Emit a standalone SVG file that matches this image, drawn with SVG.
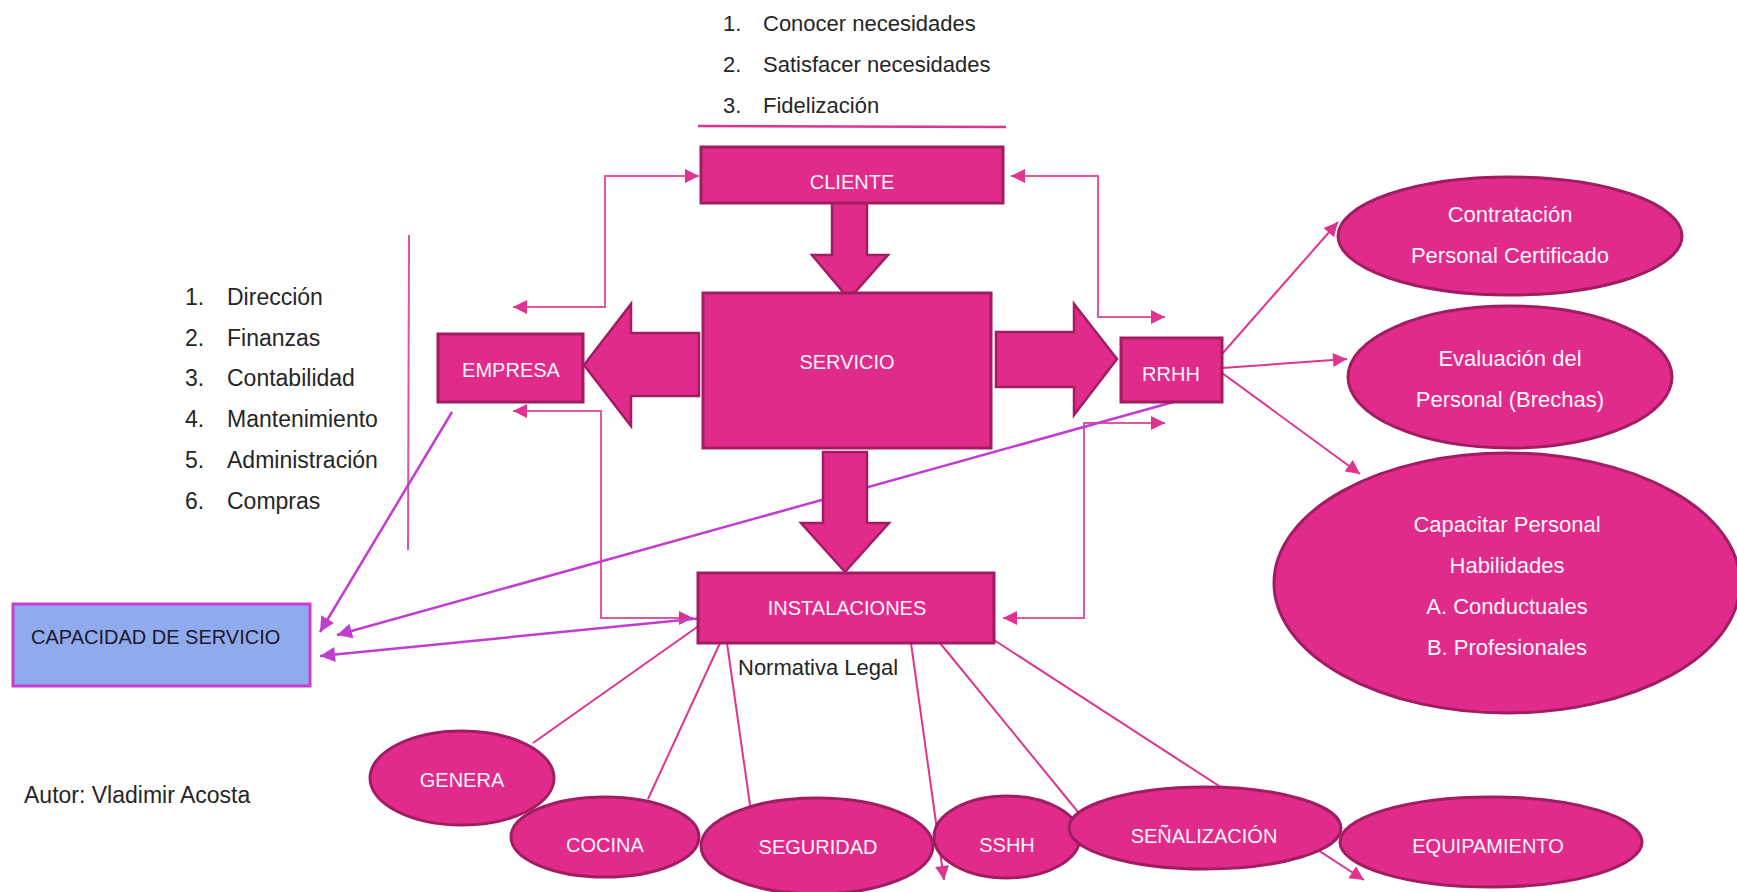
<svg xmlns="http://www.w3.org/2000/svg" width="1737" height="892" viewBox="0 0 1737 892">
<style>
.box{fill:#e12b8b;stroke:#a21c62;stroke-width:3}
.blk{fill:#e12b8b;stroke:#a21c62;stroke-width:2.5;stroke-linejoin:miter}
.lbl{font-family:"Liberation Sans",Arial,sans-serif;fill:#fff4fa;text-anchor:middle;font-size:20px}
.lbl2{font-family:"Liberation Sans",Arial,sans-serif;fill:#fff4fa;text-anchor:middle;font-size:22px}
.txt{font-family:"Liberation Sans",Arial,sans-serif;fill:#262626;font-size:23px}
.txt2{font-family:"Liberation Sans",Arial,sans-serif;fill:#262626;font-size:22px}
.con{stroke:#e0338f;stroke-width:2;fill:none}
.el{stroke:#e2589e;stroke-width:2;fill:none}
.pur{stroke:#c23cd0;stroke-width:2.5;fill:none}
</style>
<defs>
<marker id="ap" viewBox="0 0 10 10" refX="10" refY="5" markerWidth="15" markerHeight="14" markerUnits="userSpaceOnUse" orient="auto-start-reverse">
<path d="M0,0 L10,5 L0,10 z" fill="#e0338f"/>
</marker>
<marker id="au" viewBox="0 0 10 10" refX="10" refY="5" markerWidth="16" markerHeight="15" markerUnits="userSpaceOnUse" orient="auto-start-reverse">
<path d="M0,0 L10,5 L0,10 z" fill="#c23cd0"/>
</marker>
</defs>
<rect width="1737" height="892" fill="#ffffff"/>

<g id="lista-cliente">
<text class="txt2" x="723" y="31">1.</text><text class="txt2" x="763" y="31">Conocer necesidades</text>
<text class="txt2" x="723" y="72">2.</text><text class="txt2" x="763" y="72">Satisfacer necesidades</text>
<text class="txt2" x="723" y="113">3.</text><text class="txt2" x="763" y="113">Fidelización</text>
<line x1="698" y1="126" x2="1006" y2="127" stroke="#e0338f" stroke-width="2.5"/>
</g>

<g id="lista-empresa">
<text class="txt" x="185" y="305">1.</text><text class="txt" x="227" y="305">Dirección</text>
<text class="txt" x="185" y="346">2.</text><text class="txt" x="227" y="346">Finanzas</text>
<text class="txt" x="185" y="386">3.</text><text class="txt" x="227" y="386">Contabilidad</text>
<text class="txt" x="185" y="427">4.</text><text class="txt" x="227" y="427">Mantenimiento</text>
<text class="txt" x="185" y="468">5.</text><text class="txt" x="227" y="468">Administración</text>
<text class="txt" x="185" y="509">6.</text><text class="txt" x="227" y="509">Compras</text>
<line x1="409" y1="235" x2="408" y2="550" stroke="#d9569c" stroke-width="2"/>
</g>

<g id="connectors">
<path class="el" d="M513 307 H605 V176 H699" marker-start="url(#ap)" marker-end="url(#ap)"/>
<path class="el" d="M1011 176 H1098 V317 H1165" marker-start="url(#ap)" marker-end="url(#ap)"/>
<path class="el" d="M513 411 H601 V618 H693" marker-start="url(#ap)" marker-end="url(#ap)"/>
<path class="el" d="M1165 423 H1084 V618 H1003" marker-start="url(#ap)" marker-end="url(#ap)"/>
<line class="pur" x1="452" y1="412" x2="320" y2="632" marker-end="url(#au)"/>
<line class="pur" x1="1177" y1="401" x2="337" y2="635" marker-end="url(#au)"/>
<line class="pur" x1="703" y1="618" x2="320" y2="656" marker-end="url(#au)"/>
<line class="con" x1="1222" y1="354" x2="1338" y2="222" marker-end="url(#ap)"/>
<line class="con" x1="1222" y1="368" x2="1347" y2="359" marker-end="url(#ap)"/>
<line class="con" x1="1222" y1="373" x2="1360" y2="474" marker-end="url(#ap)"/>
<line class="con" x1="700" y1="625" x2="533" y2="743"/>
<line class="con" x1="720" y1="643" x2="648" y2="799"/>
<line class="con" x1="727" y1="643" x2="750" y2="805"/>
<line class="con" x1="911" y1="643" x2="944" y2="880" marker-end="url(#ap)"/>
<line class="con" x1="940" y1="643" x2="1078" y2="812"/>
<line class="con" x1="994" y1="640" x2="1364" y2="880" marker-end="url(#ap)"/>
<polygon class="blk" points="832,203 867,203 867,255 888,255 849,299 812,255 832,255"/>
<polygon class="blk" points="823,452 867,452 867,523 889,523 845,572 801,523 823,523"/>
<polygon class="blk" points="699,333 631,333 631,304 584,365 631,426 631,396 699,396"/>
<polygon class="blk" points="996,332 1074,332 1074,304 1117,359 1074,415 1074,387 996,387"/>
</g>

<g id="cliente"><rect class="box" x="701" y="147" width="302" height="56"/><text class="lbl" x="852" y="189">CLIENTE</text></g>
<g id="servicio"><rect class="box" x="703" y="293" width="288" height="155"/><text class="lbl" x="847" y="369">SERVICIO</text></g>
<g id="empresa"><rect class="box" x="438" y="334" width="145" height="68"/><text class="lbl" x="511" y="377">EMPRESA</text></g>
<g id="rrhh"><rect class="box" x="1121" y="338" width="101" height="64"/><text class="lbl" x="1171" y="381">RRHH</text></g>
<g id="instalaciones"><rect class="box" x="698" y="573" width="296" height="70"/><text class="lbl" x="847" y="615">INSTALACIONES</text></g>

<g id="capacidad"><rect x="13" y="604" width="297" height="82" fill="#8fabee" stroke="#c63fd2" stroke-width="3"/><text x="31" y="644" font-family="'Liberation Sans',Arial,sans-serif" font-size="20" fill="#1a1a2a">CAPACIDAD DE SERVICIO</text></g>

<g id="contratacion"><ellipse class="box" cx="1510" cy="236" rx="172" ry="59"/><text class="lbl2" x="1510" y="222">Contratación</text><text class="lbl2" x="1510" y="263">Personal Certificado</text></g>
<g id="evaluacion"><ellipse class="box" cx="1510" cy="377" rx="162" ry="71"/><text class="lbl2" x="1510" y="366">Evaluación del</text><text class="lbl2" x="1510" y="407">Personal (Brechas)</text></g>
<g id="capacitar"><ellipse class="box" cx="1507" cy="583" rx="233" ry="130"/><text class="lbl2" x="1507" y="532">Capacitar Personal</text><text class="lbl2" x="1507" y="573">Habilidades</text><text class="lbl2" x="1507" y="614">A. Conductuales</text><text class="lbl2" x="1507" y="655">B. Profesionales</text></g>

<g id="genera"><ellipse class="box" cx="462" cy="778" rx="92" ry="47"/><text class="lbl" x="462" y="787">GENERA</text></g>
<g id="cocina"><ellipse class="box" cx="605" cy="837" rx="94" ry="40"/><text class="lbl" x="605" y="852">COCINA</text></g>
<g id="seguridad"><ellipse class="box" cx="817" cy="846" rx="116" ry="48"/><text class="lbl" x="818" y="854">SEGURIDAD</text></g>
<g id="sshh"><ellipse class="box" cx="1007" cy="837" rx="73" ry="41"/><text class="lbl" x="1007" y="852">SSHH</text></g>
<g id="senalizacion"><ellipse class="box" cx="1205" cy="828" rx="136" ry="41"/><text class="lbl" x="1204" y="843">SEÑALIZACIÓN</text></g>
<g id="equipamiento"><ellipse class="box" cx="1491" cy="842" rx="151" ry="45"/><text class="lbl" x="1488" y="853">EQUIPAMIENTO</text></g>

<g id="notas">
<text class="txt2" x="738" y="675">Normativa Legal</text>
<text class="txt" x="24" y="803">Autor: Vladimir Acosta</text>
</g>
</svg>
